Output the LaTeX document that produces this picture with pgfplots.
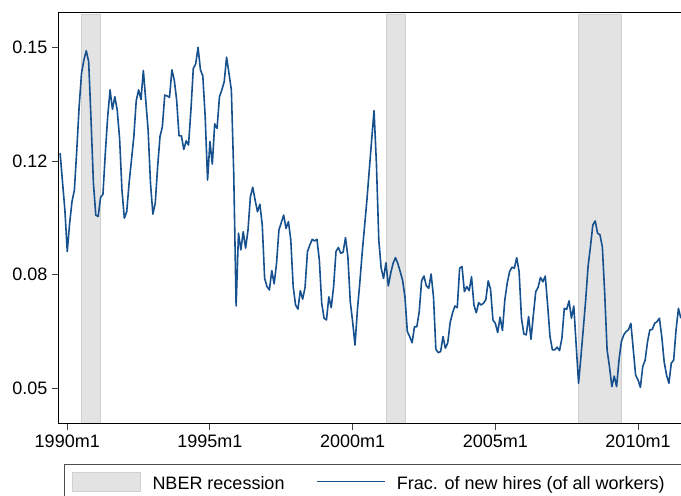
\documentclass[border=0pt]{standalone}
\usepackage{pgfplots}
\pgfplotsset{compat=1.18}
\usepackage{fontspec}
\setmainfont{Liberation Sans}
\definecolor{serline}{RGB}{22,80,142}
\definecolor{recfill}{RGB}{227,227,227}
\definecolor{recdraw}{RGB}{208,208,208}
\pgfplotstableread{
m v
-3 0.1190
-2 0.1106
-1 0.1023
0 0.0901
1 0.0984
2 0.1048
3 0.1082
4 0.1199
5 0.1327
6 0.1425
7 0.1464
8 0.1491
9 0.1459
10 0.1288
11 0.1102
12 0.1008
13 0.1004
14 0.1060
15 0.1069
16 0.1190
17 0.1297
18 0.1376
19 0.1319
20 0.1356
21 0.1317
22 0.1234
23 0.1082
24 0.0999
25 0.1018
26 0.1102
27 0.1170
28 0.1239
29 0.1344
30 0.1376
31 0.1348
32 0.1433
33 0.1346
34 0.1258
35 0.1102
36 0.1011
37 0.1043
38 0.1150
39 0.1239
40 0.1268
41 0.1361
42 0.1358
43 0.1354
44 0.1435
45 0.1405
46 0.1346
47 0.1241
48 0.1241
49 0.1201
50 0.1226
51 0.1214
52 0.1317
53 0.1439
54 0.1452
55 0.1501
56 0.1435
57 0.1417
58 0.1297
59 0.1111
60 0.1224
61 0.1158
62 0.1276
63 0.1263
64 0.1356
65 0.1376
66 0.1400
67 0.1472
68 0.1425
69 0.1376
70 0.1131
71 0.0741
72 0.0955
73 0.0906
74 0.0959
75 0.0911
76 0.0964
77 0.1062
78 0.1090
79 0.1052
80 0.1018
81 0.1040
82 0.0979
83 0.0822
84 0.0798
85 0.0788
86 0.0845
87 0.0806
88 0.0866
89 0.0964
90 0.0986
91 0.1008
92 0.0969
93 0.0989
94 0.0935
95 0.0798
96 0.0744
97 0.0732
98 0.0786
99 0.0761
100 0.0796
101 0.0901
102 0.0920
103 0.0937
104 0.0932
105 0.0937
106 0.0876
107 0.0749
108 0.0705
109 0.0700
110 0.0768
111 0.0736
112 0.0798
113 0.0901
114 0.0913
115 0.0896
116 0.0899
117 0.0942
118 0.0886
119 0.0754
120 0.0695
121 0.0626
122 0.0729
123 0.0808
124 0.0896
125 0.0974
126 0.1052
127 0.1141
128 0.1229
129 0.1315
130 0.1160
131 0.0935
132 0.0852
133 0.0822
134 0.0868
135 0.0800
136 0.0837
137 0.0866
138 0.0883
139 0.0866
140 0.0842
141 0.0817
142 0.0768
143 0.0666
144 0.0651
145 0.0633
146 0.0680
147 0.0680
148 0.0724
149 0.0815
150 0.0829
151 0.0800
152 0.0793
153 0.0835
154 0.0768
155 0.0614
156 0.0604
157 0.0607
158 0.0651
159 0.0617
160 0.0633
161 0.0692
162 0.0720
163 0.0741
164 0.0736
165 0.0852
166 0.0857
167 0.0783
168 0.0798
169 0.0786
170 0.0827
171 0.0744
172 0.0721
173 0.0751
174 0.0744
175 0.0749
176 0.0759
177 0.0815
178 0.0790
179 0.0700
180 0.0690
181 0.0663
182 0.0708
183 0.0669
184 0.0759
185 0.0808
186 0.0842
187 0.0855
188 0.0852
189 0.0883
190 0.0842
191 0.0705
192 0.0659
193 0.0656
194 0.0710
195 0.0643
196 0.0715
197 0.0783
198 0.0796
199 0.0825
200 0.0812
201 0.0829
202 0.0744
203 0.0651
204 0.0612
205 0.0612
206 0.0620
207 0.0610
208 0.0646
209 0.0734
210 0.0731
211 0.0756
212 0.0705
213 0.0741
214 0.0626
215 0.0514
216 0.0592
217 0.0675
218 0.0759
219 0.0857
220 0.0915
221 0.0979
222 0.0991
223 0.0955
224 0.0950
225 0.0915
226 0.0778
227 0.0612
228 0.0563
229 0.0504
230 0.0535
231 0.0504
232 0.0582
233 0.0636
234 0.0656
235 0.0666
236 0.0671
237 0.0690
238 0.0614
239 0.0538
240 0.0524
241 0.0502
242 0.0563
243 0.0582
244 0.0636
245 0.0671
246 0.0672
247 0.0690
248 0.0695
249 0.0705
250 0.0651
251 0.0577
252 0.0538
253 0.0514
254 0.0573
255 0.0582
256 0.0671
257 0.0734
258 0.0705
}\hiresdata
\begin{document}
\fontsize{18}{21}\selectfont
\begin{tikzpicture}
\begin{axis}[
  at={(58.7pt,72.7pt)}, anchor=south west,
  scale only axis, width=641.3pt, height=411pt,
  xmin=-3.6, xmax=266.07, ymin=0.03963, ymax=0.1604,
  axis line style={black, line width=1pt},
  axis on top,
  tick align=outside, tick pos=left,
  major tick length=7pt,
  every tick/.style={black!75, line width=1pt},
  xtick={0,60,120,180,240},
  xticklabels={1990m1,1995m1,2000m1,2005m1,2010m1},
  ytick={0.05,0.0833333,0.1166667,0.15},
  yticklabels={0.05,0.08,0.12,0.15},
  ticklabel style={font=\fontsize{18}{21}\selectfont, inner sep=0pt},
  xticklabel style={anchor=north, yshift=-4pt},
  yticklabel style={anchor=east, xshift=-4pt},
]
\addplot[fill=recfill, draw=recdraw, line width=0.8pt] coordinates {(6,0.03) (6,0.1599) (14,0.1599) (14,0.03) (6,0.03)};
\addplot[fill=recfill, draw=recdraw, line width=0.8pt] coordinates {(134,0.03) (134,0.1599) (142,0.1599) (142,0.03) (134,0.03)};
\addplot[fill=recfill, draw=recdraw, line width=0.8pt] coordinates {(215,0.03) (215,0.1599) (233,0.1599) (233,0.03) (215,0.03)};
\addplot[serline, line width=1.6pt, line join=round] table[x=m, y=v] {\hiresdata};
\end{axis}
\draw[black!70, line width=1pt] (64.7pt,-10pt) rectangle (720pt,31pt);
\filldraw[fill=recfill, draw=recdraw, line width=0.8pt] (72.7pt,4.7pt) rectangle (140.7pt,23.3pt);
\node[anchor=base west, inner sep=0pt] at (152.3pt,6.7pt) {NBER recession};
\draw[serline, line width=1.6pt] (317.3pt,14.3pt) -- (384.7pt,14.3pt);
\node[anchor=base west, inner sep=0pt] at (396.7pt,6.7pt) {Frac. of new hires (of all workers)};
\pgfresetboundingbox
\path[use as bounding box] (0pt,0pt) rectangle (681pt,496pt);
\end{tikzpicture}
\end{document}
